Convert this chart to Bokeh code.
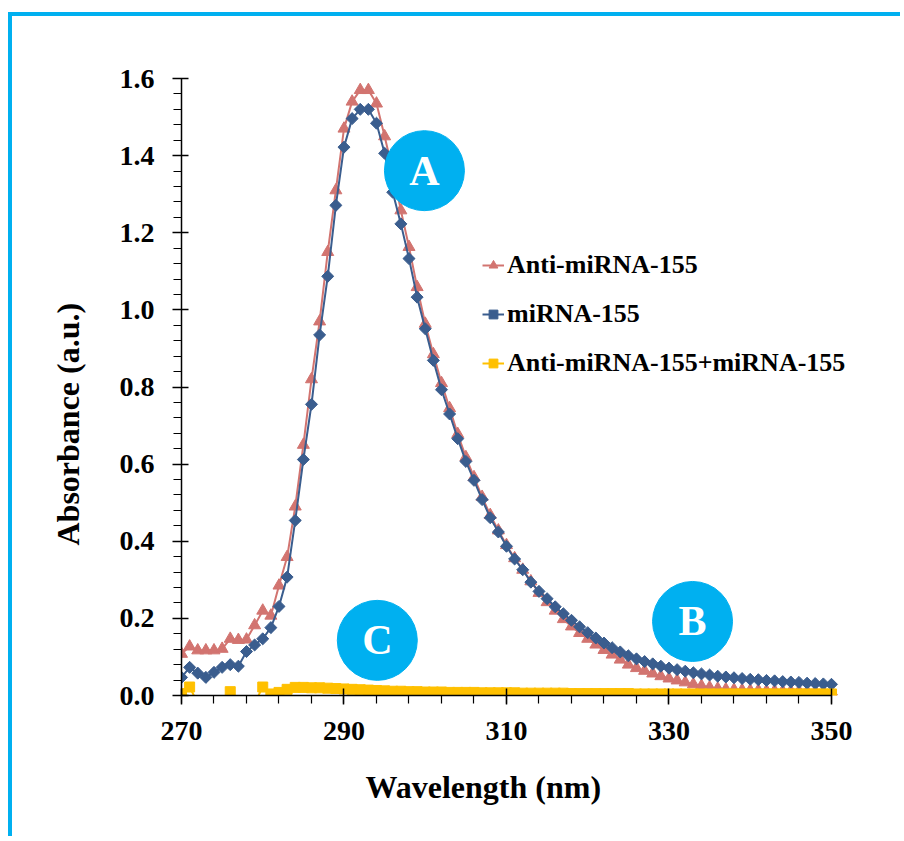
import numpy as np
from bokeh.plotting import figure
from bokeh.models import Range1d, FixedTicker, NumeralTickFormatter, Legend, LegendItem, Title
from bokeh.core.properties import value
from bokeh.embed import file_html
from bokeh.resources import INLINE

# ---------------- data ----------------
wavelength = list(range(270, 351))

anti_mirna = [
    0.108, 0.127, 0.117, 0.117, 0.117, 0.121, 0.147, 0.144, 0.145, 0.182,
    0.220, 0.207, 0.285, 0.359, 0.490, 0.650, 0.820, 0.970, 1.150, 1.310,
    1.470, 1.540, 1.570, 1.570, 1.535, 1.450, 1.360, 1.258, 1.163, 1.059,
    0.964, 0.885, 0.810, 0.745, 0.678, 0.618, 0.566, 0.515, 0.468, 0.428,
    0.390, 0.356, 0.326, 0.296, 0.266, 0.242, 0.220, 0.198, 0.179, 0.162,
    0.147, 0.132, 0.118, 0.106, 0.093, 0.080, 0.071, 0.064, 0.057, 0.050,
    0.044, 0.039, 0.034, 0.029, 0.025, 0.021, 0.018, 0.016, 0.015, 0.014,
    0.013, 0.013, 0.012, 0.012, 0.011, 0.011, 0.011, 0.010, 0.010, 0.010, 0.010,
]

mirna = [
    0.047, 0.073, 0.058, 0.047, 0.060, 0.073, 0.080, 0.076, 0.114, 0.131,
    0.147, 0.176, 0.231, 0.307, 0.454, 0.612, 0.755, 0.935, 1.087, 1.271,
    1.422, 1.496, 1.520, 1.520, 1.484, 1.406, 1.305, 1.223, 1.133, 1.033,
    0.951, 0.869, 0.793, 0.730, 0.666, 0.607, 0.558, 0.508, 0.461, 0.424,
    0.387, 0.354, 0.326, 0.294, 0.270, 0.251, 0.230, 0.212, 0.195, 0.178,
    0.163, 0.149, 0.136, 0.124, 0.113, 0.103, 0.095, 0.088, 0.082, 0.076,
    0.071, 0.067, 0.063, 0.059, 0.056, 0.053, 0.050, 0.048, 0.046, 0.044,
    0.042, 0.041, 0.039, 0.038, 0.036, 0.035, 0.034, 0.032, 0.031, 0.030, 0.029,
]

hybrid = [
    0.005, 0.022, -0.020, -0.020, -0.020, -0.020, 0.010, -0.020, -0.020, -0.020,
    0.022, 0.004, 0.008, 0.016, 0.021, 0.021, 0.020, 0.020, 0.019, 0.018,
    0.017, 0.016, 0.015, 0.014, 0.013, 0.012, 0.011, 0.011, 0.010, 0.010,
    0.009, 0.009, 0.009, 0.008, 0.008, 0.008, 0.008, 0.007, 0.007, 0.007,
    0.007, 0.007, 0.006, 0.006, 0.006, 0.006, 0.006, 0.006, 0.005, 0.005,
    0.005, 0.005, 0.005, 0.005, 0.005, 0.005, 0.004, 0.004, 0.004, 0.004,
    0.004, 0.004, 0.004, 0.004, 0.004, 0.004, 0.004, 0.004, 0.004, 0.004,
    0.004, 0.004, 0.004, 0.004, 0.004, 0.004, 0.004, 0.004, 0.004, 0.004, 0.004,
]

series_names = ["Anti-miRNA-155", "miRNA-155", "Anti-miRNA-155+miRNA-155"]
x_ticks = [270, 290, 310, 330, 350]
y_ticks = [0.0, 0.2, 0.4, 0.6, 0.8, 1.0, 1.2, 1.4, 1.6]
x_title = "Wavelength (nm)"
y_title = "Absorbance (a.u.)"

callout_labels = ["A", "B", "C"]
callout_x = [299.9, 332.9, 294.1]
callout_y = [1.361, 0.192, 0.143]

# ---------------- styles ----------------
RED = "#D27470"
BLUE = "#3A5D8E"
YELLOW = "#FFC000"
CYAN = "#00B0F0"
SERIF = "Liberation Serif"

p = figure(
    frame_width=691, frame_height=617,
    min_border_left=169, min_border_right=28,
    min_border_top=62, min_border_bottom=141,
    x_range=Range1d(270, 355.05), y_range=Range1d(0, 1.6),
    output_backend="svg", toolbar_location=None,
)
p.styles = {
    "border-top": "4px solid " + CYAN,
    "border-left": "4px solid " + CYAN,
    "margin-top": "12px",
    "margin-left": "8px",
}
p.xgrid.visible = False
p.ygrid.visible = False
p.outline_line_color = None
p.background_fill_color = "white"
p.border_fill_color = "white"

p.xaxis.ticker = FixedTicker(ticks=x_ticks, minor_ticks=list(range(270, 351, 4)))
p.yaxis.ticker = FixedTicker(ticks=y_ticks, minor_ticks=[i * 0.04 for i in range(41)])
p.yaxis.formatter = NumeralTickFormatter(format="0.0")
p.xaxis.bounds = (270, 350)

for ax in (p.xaxis, p.yaxis):
    ax.axis_line_color = "black"
    ax.axis_line_width = 1.5
    ax.major_tick_line_color = "black"
    ax.major_tick_line_width = 1.5
    ax.minor_tick_line_color = "black"
    ax.minor_tick_line_width = 1.2
    ax.major_tick_in = 7
    ax.major_tick_out = 9
    ax.minor_tick_in = 0
    ax.minor_tick_out = 8
    ax.major_label_text_font = SERIF
    ax.major_label_text_font_style = "bold"
    ax.major_label_text_font_size = "28px"
    ax.major_label_text_color = "black"

p.xaxis.major_label_standoff = 17
p.yaxis.major_label_standoff = 18

# axis titles as side-panel titles (offset from the frame's start edge)
p.add_layout(Title(text=x_title, align="left", offset=184, standoff=48,
                   text_font=SERIF, text_font_style="bold",
                   text_font_size="32px", text_color="black"), "below")
p.add_layout(Title(text=y_title, align="left", offset=150, standoff=62,
                   text_font=SERIF, text_font_style="bold",
                   text_font_size="32px", text_color="black"), "left")

# series
r_line = p.line(wavelength, anti_mirna, line_color=RED, line_width=2)
r_pts = p.scatter(wavelength, anti_mirna, marker="triangle", size=12,
                  fill_color=RED, line_color=RED)
b_line = p.line(wavelength, mirna, line_color=BLUE, line_width=2)
b_pts = p.scatter(wavelength, mirna, marker="square", angle=np.pi / 4, size=8.5,
                  fill_color=BLUE, line_color=BLUE)
y_line = p.line(wavelength, hybrid, line_color=YELLOW, line_width=2)
y_pts = p.scatter(wavelength, hybrid, marker="square", size=10,
                  fill_color=YELLOW, line_color=YELLOW)

# callouts
p.scatter(callout_x, callout_y, marker="circle", size=80,
          fill_color=CYAN, line_color=CYAN)
p.text(callout_x, callout_y, text=callout_labels,
       text_font=value(SERIF), text_font_style="bold", text_font_size="42px",
       text_color="white", text_align="center", text_baseline="middle")

legend = Legend(
    items=[
        LegendItem(label=series_names[0], renderers=[r_line, r_pts]),
        LegendItem(label=series_names[1], renderers=[b_line, b_pts]),
        LegendItem(label=series_names[2], renderers=[y_line, y_pts]),
    ],
    location=(301, 317),
    label_text_font=SERIF, label_text_font_style="bold",
    label_text_font_size="26px", label_text_color="black",
    glyph_width=22, glyph_height=30, label_height=30,
    label_standoff=3, spacing=19, padding=0, margin=0,
    border_line_color=None, background_fill_alpha=0,
)
p.add_layout(legend)

open("out.html", "w").write(file_html(p, INLINE))
